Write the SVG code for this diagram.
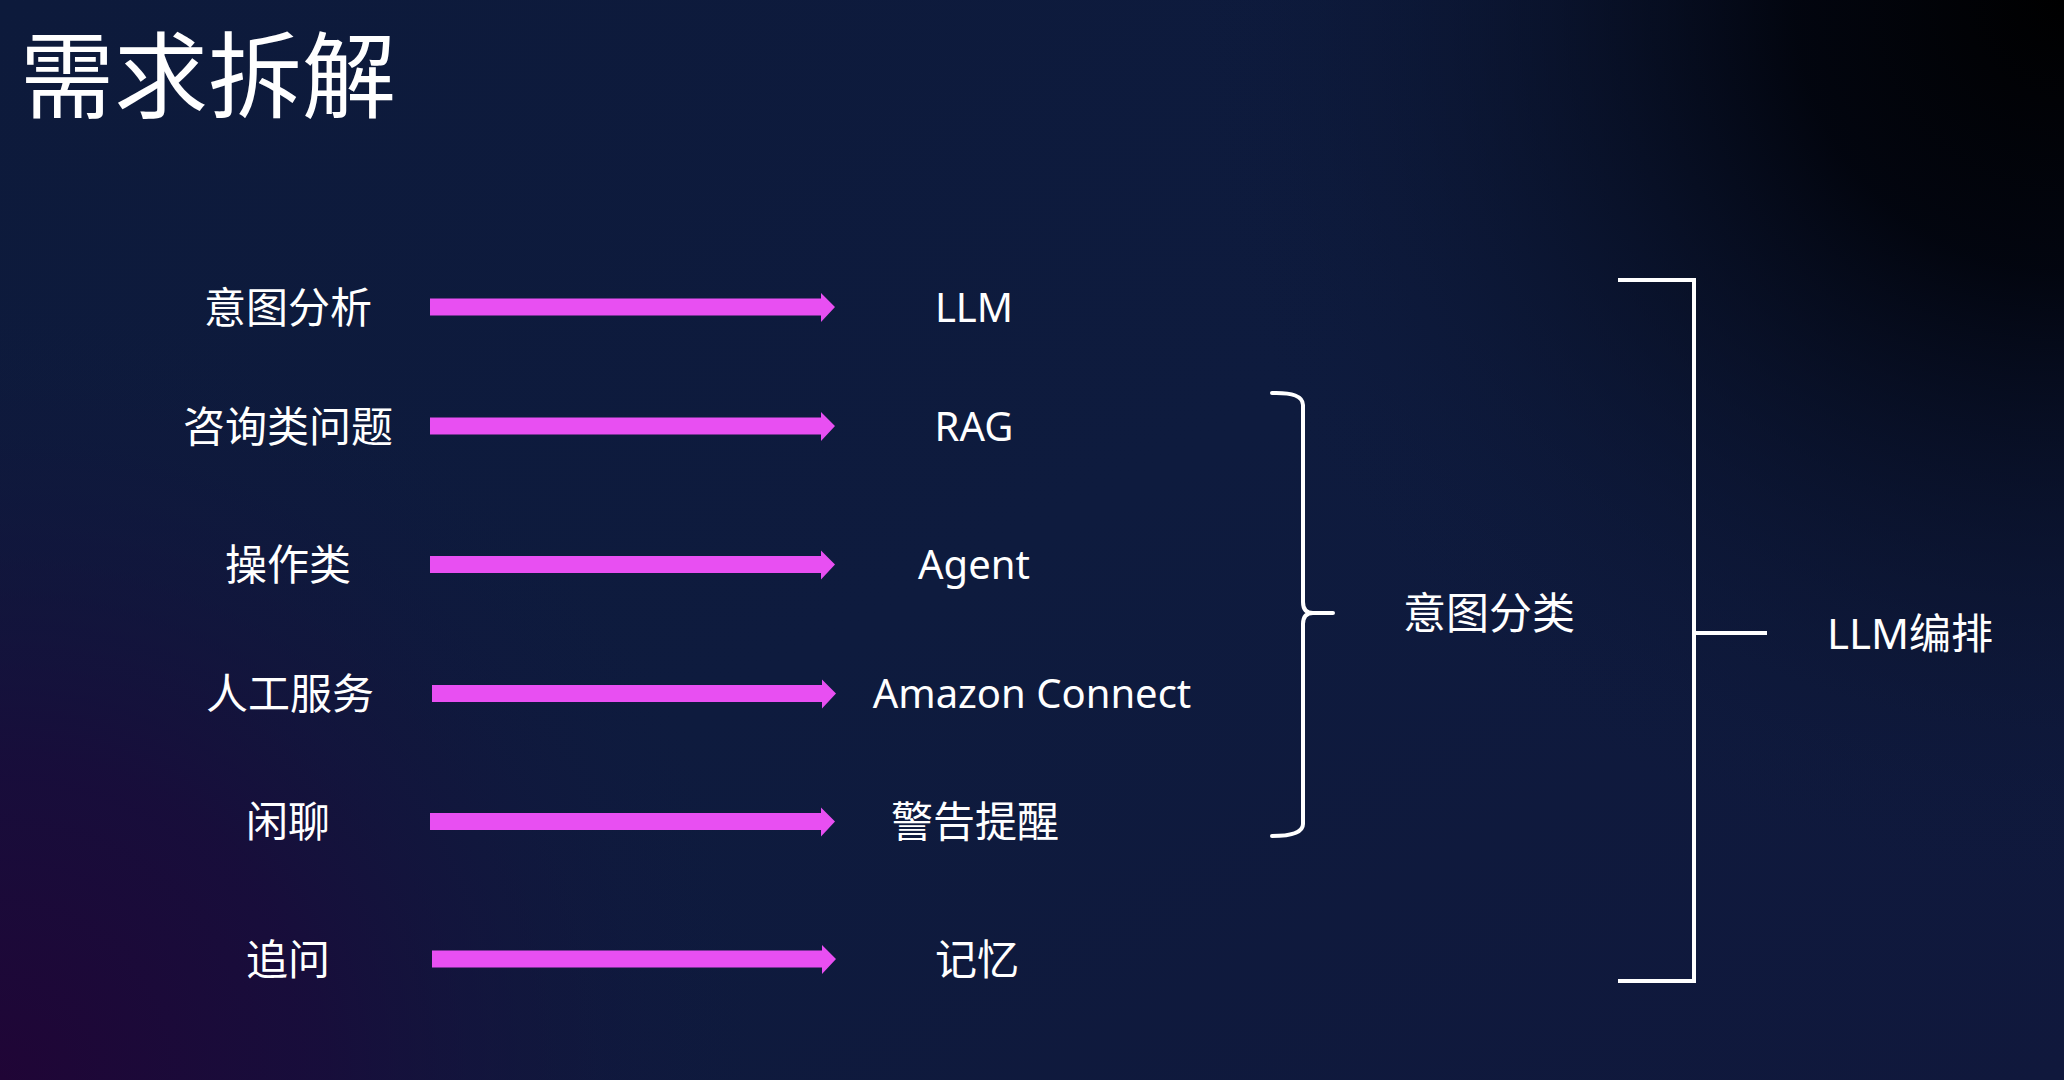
<svg xmlns="http://www.w3.org/2000/svg" width="2064" height="1080" viewBox="0 0 2064 1080">
<defs>
<linearGradient id="bgBase" x1="0" y1="0" x2="1" y2="1">
<stop offset="0" stop-color="#0d1a3b"/>
<stop offset="0.5" stop-color="#0e1b3e"/>
<stop offset="1" stop-color="#10183c"/>
</linearGradient>
<radialGradient id="dark" cx="2064" cy="0" r="900" gradientUnits="userSpaceOnUse">
<stop offset="0" stop-color="#000000" stop-opacity="1"/>
<stop offset="0.3" stop-color="#01030a" stop-opacity="0.9"/>
<stop offset="1" stop-color="#0e1b3e" stop-opacity="0"/>
</radialGradient>
<radialGradient id="purple" cx="0" cy="1080" r="800" gradientUnits="userSpaceOnUse">
<stop offset="0" stop-color="#200536" stop-opacity="1"/>
<stop offset="0.4" stop-color="#1a0a3a" stop-opacity="0.8"/>
<stop offset="1" stop-color="#0e1b3e" stop-opacity="0"/>
</radialGradient>
<style>
.t{fill:#ffffff;font-family:"Noto Sans","Noto Sans CJK SC",sans-serif;}
.cn{font-family:"Noto Sans CJK SC","Noto Sans",sans-serif;font-size:42px;text-anchor:middle;}
.en{font-size:40px;text-anchor:middle;}
.arrow{fill:#e84ff2;}
.ln{fill:none;stroke:#ffffff;stroke-width:4;stroke-linecap:round;stroke-linejoin:miter;}
</style>
</defs>
<rect width="2064" height="1080" fill="url(#bgBase)"/>
<rect width="2064" height="1080" fill="url(#purple)"/>
<rect width="2064" height="1080" fill="url(#dark)"/>

<text id="title" class="t" x="20" y="111" style="font-family:'Noto Sans CJK SC',sans-serif;font-size:94px">需求拆解</text>

<g id="src-intent"><text class="t cn" x="288" y="323">意图分析</text></g>
<g id="src-consult"><text class="t cn" x="288" y="442">咨询类问题</text></g>
<g id="src-operate"><text class="t cn" x="288" y="580">操作类</text></g>
<g id="src-human"><text class="t cn" x="290" y="709">人工服务</text></g>
<g id="src-chat"><text class="t cn" x="288" y="837">闲聊</text></g>
<g id="src-follow"><text class="t cn" x="288" y="975">追问</text></g>

<g id="dst-llm"><text class="t en" x="974" y="322">LLM</text></g>
<g id="dst-rag"><text class="t en" x="974" y="441">RAG</text></g>
<g id="dst-agent"><text class="t en" x="974" y="579">Agent</text></g>
<g id="dst-connect"><text class="t en" x="1032" y="708">Amazon Connect</text></g>
<g id="dst-alert"><text class="t cn" x="975" y="837">警告提醒</text></g>
<g id="dst-memory"><text class="t cn" x="977" y="975">记忆</text></g>

<g id="intent-class"><text class="t cn" x="1489" y="629" style="font-size:43px">意图分类</text></g>
<g id="llm-orch"><text class="t" x="1910" y="649" style="font-size:42px;text-anchor:middle">LLM编排</text></g>

<g id="connectors">
<path class="arrow" d="M430,298.5 H821 V293 L835,307 L821,322 V315.5 H430 Z"/>
<path class="arrow" d="M430,417.5 H821 V412 L835,426 L821,441 V434.5 H430 Z"/>
<path class="arrow" d="M430,556 H821 V550.5 L835,564.5 L821,579.5 V573 H430 Z"/>
<path class="arrow" d="M432,685 H822 V679.5 L836,693.5 L822,708.5 V702 H432 Z"/>
<path class="arrow" d="M430,813 H821 V807.5 L835,821.5 L821,836.5 V830 H430 Z"/>
<path class="arrow" d="M432,950.5 H822 V945 L836,959 L822,974 V967.5 H432 Z"/>
<path class="ln" d="M1272,393 Q1303,392 1303,405 L1303,602 Q1303,613 1313,613 L1333,613 M1313,613 Q1303,613 1303,624 L1303,824 Q1303,836 1272,836"/>
<path class="ln" style="stroke-linecap:butt" d="M1618,280 H1694 V981 H1618 M1694,633 H1767"/>
</g>
</svg>
